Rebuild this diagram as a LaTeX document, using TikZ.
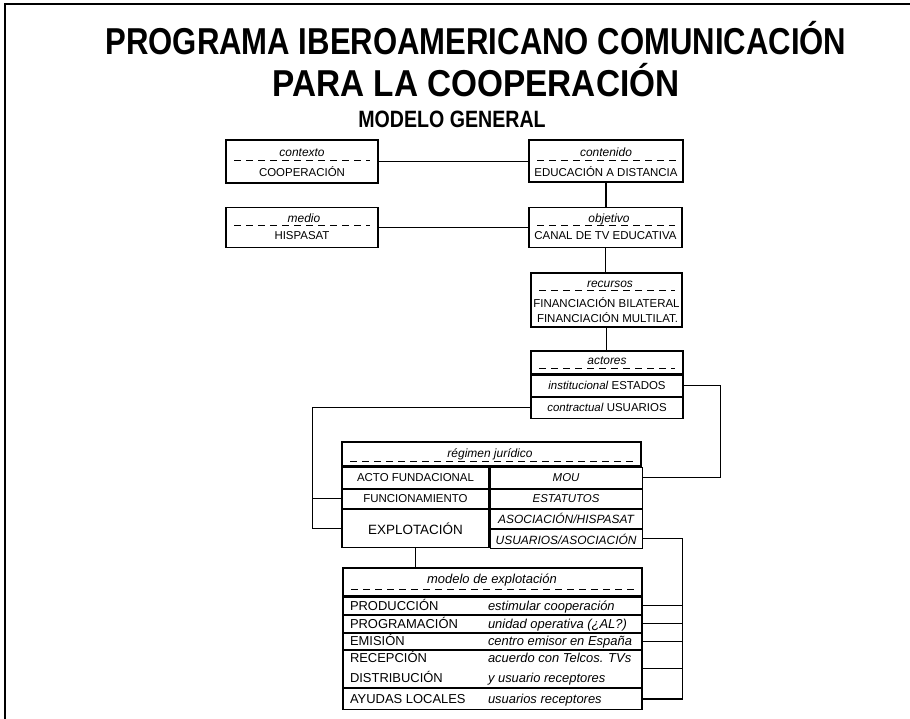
\documentclass[tikz,border=0pt]{standalone}
\usepackage{fontspec}
\setmainfont{Liberation Sans}
\usepackage{graphicx}
\usetikzlibrary{positioning,calc}

\begin{document}
\begin{tikzpicture}[x=1bp,y=-1bp,line width=1.1bp,node distance=0pt]
 \tikzstyle{ttl}=[font=\bfseries\fontsize{37.6}{40}\selectfont,anchor=base,inner sep=0pt]
 \tikzstyle{sub}=[font=\bfseries\fontsize{23.7}{26}\selectfont,anchor=base,inner sep=0pt]
 \tikzstyle{box}=[draw,rectangle,inner sep=0pt]
 \tikzstyle{lbl}=[font=\itshape\fontsize{12}{13}\selectfont,anchor=base,inner sep=0pt]
 \tikzstyle{txt}=[font=\fontsize{11.5}{13}\selectfont,anchor=base,inner sep=0pt]
 \tikzstyle{cell}=[box,font=\fontsize{11.5}{13}\selectfont]
 \tikzstyle{row}=[box,minimum width=299bp]
 \tikzstyle{item}=[font=\fontsize{13}{15}\selectfont,anchor=base west,inner sep=0pt]
 \tikzstyle{note}=[font=\itshape\fontsize{13}{15}\selectfont,anchor=base west,inner sep=0pt]
 \tikzstyle{dashline}=[dash pattern=on 7bp off 5bp,line width=0.8bp]

 \useasboundingbox (0,0) rectangle (910,719);
 \draw[line width=1.3bp] (5,719) -- (5,4) -- (910,4);

 % titles
 \node[ttl] (t1) at (476,55) {\scalebox{0.83}[1]{PROGRAMA IBEROAMERICANO COMUNICACIÓN}};
 \node[ttl] (t2) at (476,97) {\scalebox{0.89}[1]{PARA LA COOPERACIÓN}};
 \node[sub] (t3) at (452,128) {\scalebox{0.83}[1]{MODELO GENERAL}};

 % upper boxes
 \node[box,minimum width=152bp,minimum height=43bp] (ctx) at (302,161.5) {};
 \node[box,minimum width=154bp,minimum height=42bp] (cont) at (606,161) {};
 \node[box,minimum width=152bp,minimum height=40bp] (med) at (302,227.5) {};
 \node[box,minimum width=153bp,minimum height=40bp] (obj) at (605.5,227.5) {};
 \node[box,minimum width=151bp,minimum height=54bp] (rec) at (606.5,300) {};

 \node[lbl] (ctxL) at (302,157) {contexto};
 \node[txt] (ctxT) at (302,177) {COOPERACIÓN};
 \node[lbl] (contL) at (606,157) {contenido};
 \node[txt] (contT) at (606,177) {EDUCACIÓN A DISTANCIA};
 \node[lbl] (medL) at (304,222) {medio};
 \node[txt] (medT) at (302,239) {HISPASAT};
 \node[lbl] (objL) at (609,222) {objetivo};
 \node[txt] (objT) at (605.5,239) {CANAL DE TV EDUCATIVA};
 \node[lbl] (recL) at (610,287) {recursos};
 \node[txt] (recT1) at (606.5,307) {FINANCIACIÓN BILATERAL};
 \node[txt] (recT2) at (607.5,322) {FINANCIACIÓN MULTILAT.};

 \draw[dashline] (234,160) -- (370,160);
 \draw[dashline] (537,160) -- (676,160);
 \draw[dashline] (234,225) -- (370,225);
 \draw[dashline] (537,225) -- (675,225);
 \draw[dashline] (539,290) -- (675,290);

 % actores
 \node[box,minimum width=152bp,minimum height=23bp] (actH) at (607,362.5) {};
 \node[lbl] (actL) at (607,364) {actores};
 \draw[dashline] (539,368) -- (675,368);
 \node[cell,minimum width=152bp,minimum height=21bp,below=of actH] (actA) {\textit{institucional} ESTADOS};
 \node[cell,minimum width=152bp,minimum height=21bp,below=of actA] (actB) {\textit{contractual} USUARIOS};

 % regimen juridico
 \node[box,minimum width=299bp,minimum height=24bp] (regH) at (491.5,454) {};
 \node[lbl] (regL) at (490,457) {régimen jurídico};
 \draw[dashline] (350,461) -- (633,461);
 \node[cell,minimum width=147bp,minimum height=21bp,below right=0pt and 0pt of regH.south west] (regA) {ACTO FUNDACIONAL};
 \node[cell,minimum width=152bp,minimum height=21bp,right=of regA] (regA2) {\textit{MOU}};
 \node[cell,minimum width=147bp,minimum height=19bp,below=of regA] (regB) {FUNCIONAMIENTO};
 \node[cell,minimum width=152bp,minimum height=19bp,right=of regB] (regB2) {\textit{ESTATUTOS}};
 \node[cell,minimum width=147bp,minimum height=38bp,below=of regB,font=\fontsize{13.5}{15}\selectfont] (regC) {EXPLOTACIÓN};
 \node[cell,minimum width=152bp,minimum height=19bp,below=of regB2,font=\itshape\fontsize{12}{13}\selectfont] (regC1) {ASOCIACIÓN/HISPASAT};
 \node[cell,minimum width=152bp,minimum height=19bp,below=of regC1,font=\itshape\fontsize{12}{13}\selectfont] (regC2) {USUARIOS/ASOCIACIÓN};

 % modelo de explotacion
 \node[box,minimum width=299bp,minimum height=28bp] (modH) at (492.5,582) {};
 \node[lbl,font=\itshape\fontsize{13}{14}\selectfont] (modL) at (492,583) {modelo de explotación};
 \draw[dashline] (351,589) -- (634,589);
 \node[row,minimum height=17bp,below=of modH] (modA) {};
 \node[row,minimum height=17bp,below=of modA] (modB) {};
 \node[row,minimum height=16bp,below=of modB] (modC) {};
 \node[row,minimum height=37bp,below=of modC] (modD) {};
 \node[row,minimum height=21bp,below=of modD] (modE) {};
 \node[item] (modAt) at ([xshift=7bp,yshift=-4.5bp]modA.west) {PRODUCCIÓN};
 \node[note] (modAn) at ([xshift=145bp,yshift=-4.5bp]modA.west) {estimular cooperación};
 \node[item] (modBt) at ([xshift=7bp,yshift=-4.5bp]modB.west) {PROGRAMACIÓN};
 \node[note] (modBn) at ([xshift=145bp,yshift=-4.5bp]modB.west) {unidad operativa (¿AL?)};
 \node[item] (modCt) at ([xshift=7bp,yshift=-4.5bp]modC.west) {EMISIÓN};
 \node[note] (modCn) at ([xshift=145bp,yshift=-4.5bp]modC.west) {centro emisor en España};
 \node[item] (modDt) at ([xshift=7bp,yshift=6.5bp]modD.west) {RECEPCIÓN};
 \node[note] (modDn) at ([xshift=145bp,yshift=6.5bp]modD.west) {acuerdo con Telcos. TVs};
 \node[item] (modDu) at ([xshift=7bp,yshift=-13.5bp]modD.west) {DISTRIBUCIÓN};
 \node[note] (modDv) at ([xshift=145bp,yshift=-13.5bp]modD.west) {y usuario receptores};
 \node[item] (modEt) at ([xshift=7bp,yshift=-4.5bp]modE.west) {AYUDAS LOCALES};
 \node[note] (modEn) at ([xshift=145bp,yshift=-4.5bp]modE.west) {usuarios receptores};

 % connectors
 \draw (ctx.east) -- (ctx.east -| cont.west);
 \draw (med.east) -- (med.east -| obj.west);
 \draw (cont.south) -- (cont.south |- obj.north);
 \draw (obj.south) -- (obj.south |- rec.north);
 \draw (rec.south) -- (rec.south |- actH.north);
 \draw (actA.east) -- ++(37,0) |- (regA2.east);
 \draw (actB.west) -| ([xshift=-29bp]regC.west) -- (regC.west);
 \draw ([xshift=-29bp]regB.west) -- (regB.west);
 \draw (regC.south) -- (regC.south |- modH.north);
 \draw (regC2.east) -- ++(40,0) coordinate (brk) |- (modE.east);
 \foreach \r in {modA,modB,modC,modD}
   \draw (\r.east) -- (\r.east -| brk);
\end{tikzpicture}
\end{document}
